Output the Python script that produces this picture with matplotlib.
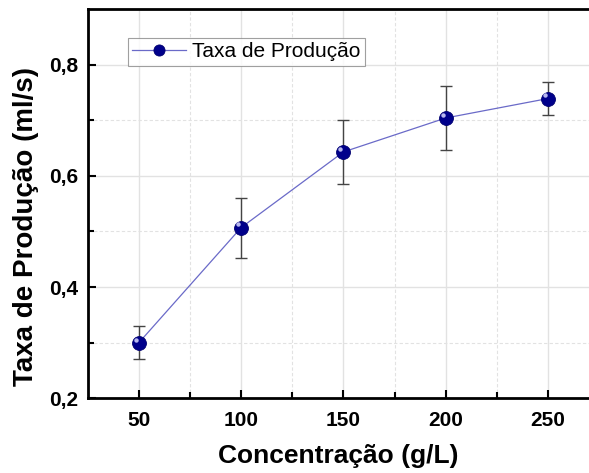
import matplotlib
matplotlib.use("Agg")
import matplotlib.pyplot as plt
import matplotlib.transforms as mtransforms
import numpy as np

# data
concentracao = np.array([50, 100, 150, 200, 250])          # g/L
taxa = np.array([0.300, 0.507, 0.643, 0.704, 0.739])       # ml/s
taxa_err = np.array([0.030, 0.054, 0.057, 0.057, 0.030])

plt.rcParams['font.family'] = ['Liberation Sans', 'DejaVu Sans']

fig = plt.figure(figsize=(5.89, 4.73), dpi=100)
ax = fig.add_axes([0.149, 0.158, 0.851, 0.823])

# grid: solid major, dashed minor
ax.set_xticks([50, 100, 150, 200, 250])
ax.set_xticks([75, 125, 175, 225], minor=True)
ax.set_yticks([0.2, 0.4, 0.6, 0.8])
ax.set_yticks([0.3, 0.5, 0.7], minor=True)
ax.grid(True, which='major', color='#e2e2e2', linewidth=1.0, zorder=0)
ax.grid(True, which='minor', color='#e2e2e2', linewidth=0.8, linestyle=(0, (3, 2)), zorder=0)
ax.set_axisbelow(True)

ax.errorbar(concentracao, taxa, yerr=taxa_err, fmt='none', ecolor='#444444',
            elinewidth=1.0, capsize=4, capthick=1.0, zorder=2)
ax.plot(concentracao, taxa, '-', color='#6a6ac8', linewidth=0.9, zorder=3,
        marker='o', markersize=10, markerfacecolor='#00008b',
        markeredgecolor='#000070', markeredgewidth=0.6, label='Taxa de Produção')

# small highlight on the spheres
shift = mtransforms.ScaledTranslation(-2.2 / 72, 2.2 / 72, fig.dpi_scale_trans)
ax.plot(concentracao, taxa, 'o', markersize=3.2, color='#b8b8f0', markeredgewidth=0,
        transform=ax.transData + shift, zorder=4)

ax.set_xlim(25, 270)
ax.set_ylim(0.2, 0.9)

ax.set_yticklabels(['0,2', '0,4', '0,6', '0,8'])
ax.tick_params(which='both', direction='in', width=1.5, labelsize=15)
ax.tick_params(axis='x', pad=9)
ax.tick_params(axis='y', pad=7)
ax.tick_params(which='major', length=6)
ax.tick_params(which='minor', length=4)
for lab in ax.get_xticklabels() + ax.get_yticklabels():
    lab.set_fontweight('bold')

for side in ['left', 'bottom', 'top']:
    ax.spines[side].set_linewidth(2.0)
ax.spines['right'].set_visible(False)

ax.set_xlabel('Concentração (g/L)', fontsize=19, fontweight='bold', labelpad=10)
ax.set_ylabel('Taxa de Produção (ml/s)', fontsize=20, fontweight='bold')
ax.yaxis.set_label_coords(-0.098, 0.442)

leg = ax.legend(loc='upper left', bbox_to_anchor=(0.08, 0.925), borderaxespad=0,
                fontsize=15, frameon=True, fancybox=False, edgecolor='#888888',
                handlelength=2.6, borderpad=0.2, handletextpad=0.3, markerscale=0.8)
leg.get_frame().set_linewidth(0.8)

fig.savefig('out.png', dpi=100)
